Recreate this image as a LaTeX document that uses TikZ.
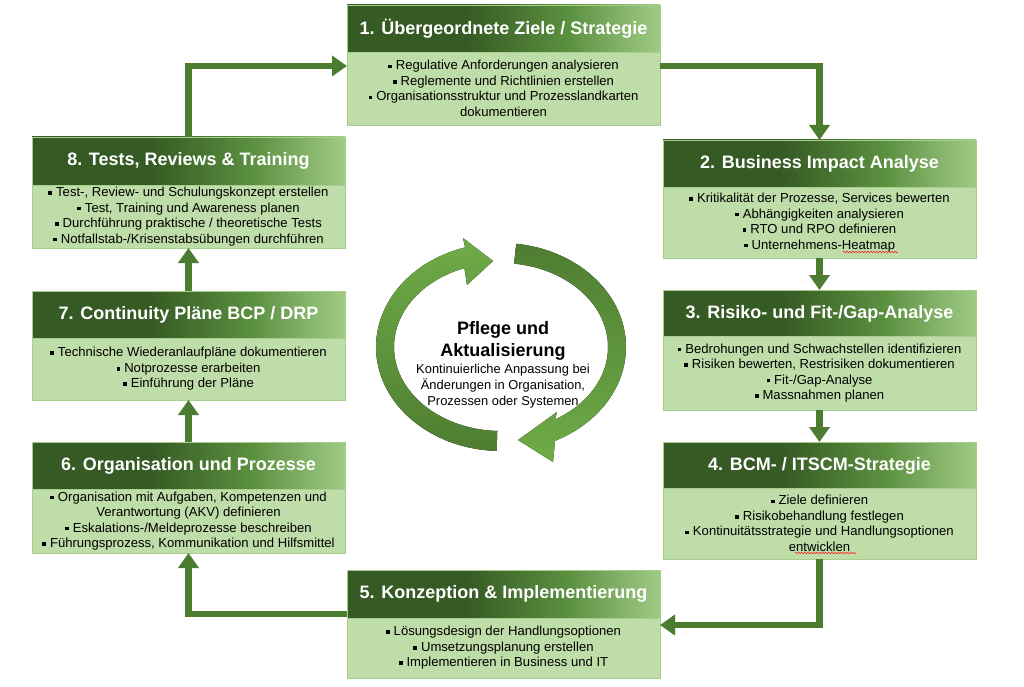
\documentclass[tikz,border=0pt]{standalone}
\usepackage{fontspec}
\setmainfont{Liberation Sans}
\usetikzlibrary{arrows.meta,decorations.pathmorphing}
\definecolor{hd}{HTML}{365A24}
\definecolor{hm}{HTML}{5A8F3F}
\definecolor{hl}{HTML}{A0CB85}
\definecolor{bodyfill}{HTML}{BEDDA9}
\definecolor{bodyline}{HTML}{A6CF8B}
\definecolor{arrowc}{HTML}{4C7C2F}
\definecolor{cdark}{HTML}{4E7D31}
\definecolor{clight}{HTML}{6FAC48}
\pgfdeclarehorizontalshading{hdr}{100bp}{color(0bp)=(hd); color(25bp)=(hd); color(44bp)=(hd); color(60bp)=(hm); color(75bp)=(hl); color(100bp)=(hl)}
\newcommand\mybul{\raisebox{1.7pt}{\rule{3.7pt}{3.7pt}}\hspace{4pt}}
\begin{document}
\begin{tikzpicture}[x=1pt,y=-1pt,
  hdrbox/.style={shade, shading=hdr, draw=bodyline, line width=0.8pt, minimum width=313pt, minimum height=47pt, anchor=north west, inner sep=0pt, outer sep=0pt, text=white, font=\bfseries\fontsize{18}{20}\selectfont},
  bodybox/.style={fill=bodyfill, draw=bodyline, line width=0.8pt, minimum width=313pt, anchor=north west, inner sep=0pt, outer sep=0pt, align=center, font=\fontsize{13.1}{15.5}\selectfont},
  flow/.style={draw=arrowc, line width=6.5pt, line join=miter, -{Triangle[length=15pt,width=20pt]}},
  spell/.style={draw=red!85, line width=0.6pt, decorate, decoration={snake, amplitude=0.8pt, segment length=3pt}}]
\useasboundingbox (0,0) rectangle (1024,687);
\fill[white] (0,0) rectangle (1024,687);

% Box 1
\node[hdrbox] (h1) at (347,5) {1. Übergeordnete Ziele / Strategie};
\node[bodybox, minimum height=73pt] (b1) at (347,52) {\mybul Regulative Anforderungen analysieren\\\mybul Reglemente und Richtlinien erstellen\\\mybul Organisationsstruktur und Prozesslandkarten\\dokumentieren};
% Box 2
\node[hdrbox] (h2) at (663,140) {2. Business Impact Analyse};
\node[bodybox, minimum height=71pt] (b2) at (663,187) {\mybul Kritikalität der Prozesse, Services bewerten\\\mybul Abhängigkeiten analysieren\\\mybul RTO und RPO definieren\\\mybul Unternehmens-Heatmap};
% Box 3
\node[hdrbox] (h3) at (663,290) {3. Risiko- und Fit-/Gap-Analyse};
\node[bodybox, minimum height=74pt] (b3) at (663,336) {\mybul Bedrohungen und Schwachstellen identifizieren\\\mybul Risiken bewerten, Restrisiken dokumentieren\\\mybul Fit-/Gap-Analyse\\\mybul Massnahmen planen};
% Box 4
\node[hdrbox] (h4) at (663,442) {4. BCM- / ITSCM-Strategie};
\node[bodybox, minimum height=71pt] (b4) at (663,488) {\mybul Ziele definieren\\\mybul Risikobehandlung festlegen\\\mybul Kontinuitätsstrategie und Handlungsoptionen\\entwicklen};
% Box 5
\node[hdrbox, minimum height=48pt] (h5) at (347,570) {5. Konzeption \& Implementierung};
\node[bodybox, minimum height=60pt] (b5) at (347,618) {\mybul Lösungsdesign der Handlungsoptionen\\\mybul Umsetzungsplanung erstellen\\\mybul Implementieren in Business und IT};
% Box 6
\node[hdrbox] (h6) at (32,442) {6. Organisation und Prozesse};
\node[bodybox, minimum height=64pt] (b6) at (32,489) {\mybul Organisation mit Aufgaben, Kompetenzen und\\Verantwortung (AKV) definieren\\\mybul Eskalations-/Meldeprozesse beschreiben\\\mybul Führungsprozess, Kommunikation und Hilfsmittel};
% Box 7
\node[hdrbox] (h7) at (32,291) {7. Continuity Pläne BCP / DRP};
\node[bodybox, minimum height=62pt] (b7) at (32,338) {\mybul Technische Wiederanlaufpläne dokumentieren\\\mybul Notprozesse erarbeiten\\\mybul Einführung der Pläne};
% Box 8
\node[hdrbox, minimum height=48pt] (h8) at (32,137) {8. Tests, Reviews \& Training};
\node[bodybox, minimum height=63pt] (b8) at (32,185) {\mybul Test-, Review- und Schulungskonzept erstellen\\\mybul Test, Training und Awareness planen\\\mybul Durchführung praktische / theoretische Tests\\\mybul Notfallstab-/Krisenstabsübungen durchführen};

% spell-check marks
\draw[spell] (843,252) -- (898,252);
\draw[spell] (795,553) -- (856,553);

% connectors
\draw[flow] (h8.north) |- ([yshift=-14pt]b1.north west);
\draw[flow] ([yshift=-14pt]b1.north east) -| (h2.north);
\draw[flow] (b2.south) -- (h3.north);
\draw[flow] (b3.south) -- (h4.north);
\draw[flow] (b4.south) |- ([yshift=-7pt]b5.north east);
\draw[flow] ([yshift=4pt]h5.south west) -| (b6.south);
\draw[flow] (h6.north) -- (b7.south);
\draw[flow] (h7.north) -- (b8.south);

% central cycle arrows
\def\ccx{501}\def\ccy{347}
\fill[top color=clight, bottom color=cdark]
  plot[domain=92:253.3,samples=60] ({\ccx+125*cos(\x)},{\ccy+104*sin(\x)})
  -- (463,238) -- (493,261) -- (467,285)
  -- plot[domain=250:92,samples=60] ({\ccx+107*cos(\x)},{\ccy+84*sin(\x)}) -- cycle;
\fill[top color=cdark, bottom color=clight]
  plot[domain=277:424.4,samples=60] ({\ccx+125*cos(\x)},{\ccy+104*sin(\x)})
  -- (553,462) -- (518,440) -- (557,412)
  -- plot[domain=419.7:277,samples=60] ({\ccx+107*cos(\x)},{\ccy+84*sin(\x)}) -- cycle;

\node[align=center, font=\bfseries\fontsize{18}{22}\selectfont] (ctitle) at (503,341) {Pflege und\\Aktualisierung};
\node[align=center, font=\fontsize{12.9}{16}\selectfont, inner sep=0pt] (ctext) at (503,386) {Kontinuierliche Anpassung bei\\Änderungen in Organisation,\\Prozessen oder Systemen};
\end{tikzpicture}
\end{document}
